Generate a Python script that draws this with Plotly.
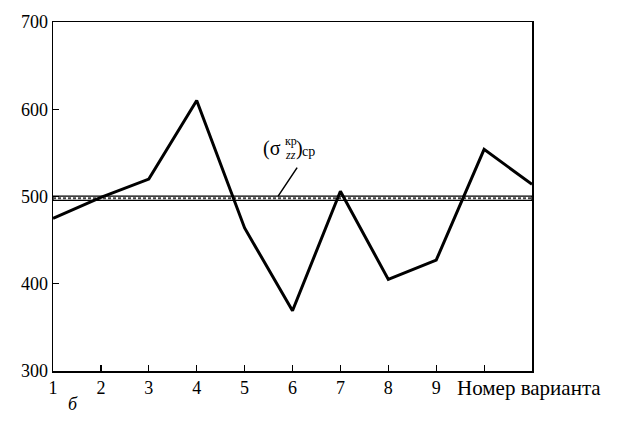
import plotly.graph_objects as go

# Data
variants = [1, 2, 3, 4, 5, 6, 7, 8, 9, 10, 11]
sigma = [475, 499, 520, 610, 464, 369, 506, 405, 427, 554, 514]
band_low = 495.5
band_high = 500.5
band_mid = 498.0
x_tickvals = [1, 2, 3, 4, 5, 6, 7, 8, 9, 10]
x_ticktext = ["1", "2", "3", "4", "5", "6", "7", "8", "9", ""]
y_tickvals = [300, 400, 500, 600, 700]
x_range = [1, 11]
y_range = [300, 700]

FONT = "Liberation Serif, Times New Roman, serif"

fig = go.Figure()

# hatched band (average critical stress)
fig.add_shape(type="rect", xref="x", yref="y", x0=x_range[0], x1=x_range[1],
              y0=band_low, y1=band_high, line=dict(color="black", width=1.3),
              fillcolor="white", layer="below")
fig.add_trace(go.Scatter(x=x_range, y=[band_mid, band_mid], mode="lines",
                         line=dict(color="#444444", width=2, dash="3px,2px"),
                         hoverinfo="skip", showlegend=False))

# main curve
fig.add_trace(go.Scatter(x=variants, y=sigma, mode="lines",
                         line=dict(color="black", width=3),
                         hoverinfo="skip", showlegend=False))

ann = []
# leader line
ann.append(dict(x=5.70, y=band_high, xref="x", yref="y", text="", showarrow=True,
                arrowhead=0, arrowwidth=1.5, arrowcolor="black", ax=20, ay=-30))
# label pieces
ann.append(dict(x=5.80, y=555.5, xref="x", yref="y", text="(σ", showarrow=False,
                xanchor="right", yanchor="middle", font=dict(family=FONT, size=20, color="black")))
ann.append(dict(x=5.81, y=563.5, xref="x", yref="y", text="кр", showarrow=False,
                xanchor="left", yanchor="middle", font=dict(family=FONT, size=12, color="black")))
ann.append(dict(x=5.81, y=547.5, xref="x", yref="y", text="<i>zz</i>", showarrow=False,
                xanchor="left", yanchor="middle", font=dict(family=FONT, size=12, color="black")))
ann.append(dict(x=6.04, y=555.5, xref="x", yref="y", text=")", showarrow=False,
                xanchor="left", yanchor="middle", font=dict(family=FONT, size=20, color="black")))
ann.append(dict(x=6.15, y=552.0, xref="x", yref="y", text="ср", showarrow=False,
                xanchor="left", yanchor="middle", font=dict(family=FONT, size=14, color="black")))
# axis title
ann.append(dict(x=9.39, y=0, xref="x", yref="paper", text="Номер варианта", showarrow=False,
                xanchor="left", yanchor="top", yshift=-3,
                font=dict(family=FONT, size=21, color="black")))
# panel letter
ann.append(dict(x=1.42, y=0, xref="x", yref="paper", text="<i>б</i>", showarrow=False,
                xanchor="center", yanchor="top", yshift=-21,
                font=dict(family=FONT, size=18, color="black")))

fig.update_layout(
    width=620, height=422,
    margin=dict(l=53, r=88, t=15, b=51),
    paper_bgcolor="white", plot_bgcolor="white",
    font=dict(family=FONT, size=18, color="black"),
    annotations=ann,
    hovermode=False,
    xaxis=dict(range=x_range, tickvals=x_tickvals, ticktext=x_ticktext,
               showgrid=False, zeroline=False, showline=True, linecolor="black",
               linewidth=1.5, mirror=True, ticks="inside", ticklen=6, tickwidth=1.2,
               tickcolor="black", ticklabeloverflow="allow",
               tickfont=dict(family=FONT, size=18, color="black")),
    yaxis=dict(range=y_range, tickvals=y_tickvals,
               showgrid=False, zeroline=False, showline=True, linecolor="black",
               linewidth=1.5, mirror=True, ticks="inside", ticklen=6, tickwidth=1.2,
               tickcolor="black", ticklabeloverflow="allow",
               tickfont=dict(family=FONT, size=18, color="black")),
)

# remove the page's default body margin so the figure fills the 620x422 window
fig.write_html("out.html", config={"displayModeBar": False, "staticPlot": True},
               post_script="document.body.style.margin='0';document.body.style.overflow='hidden';")
